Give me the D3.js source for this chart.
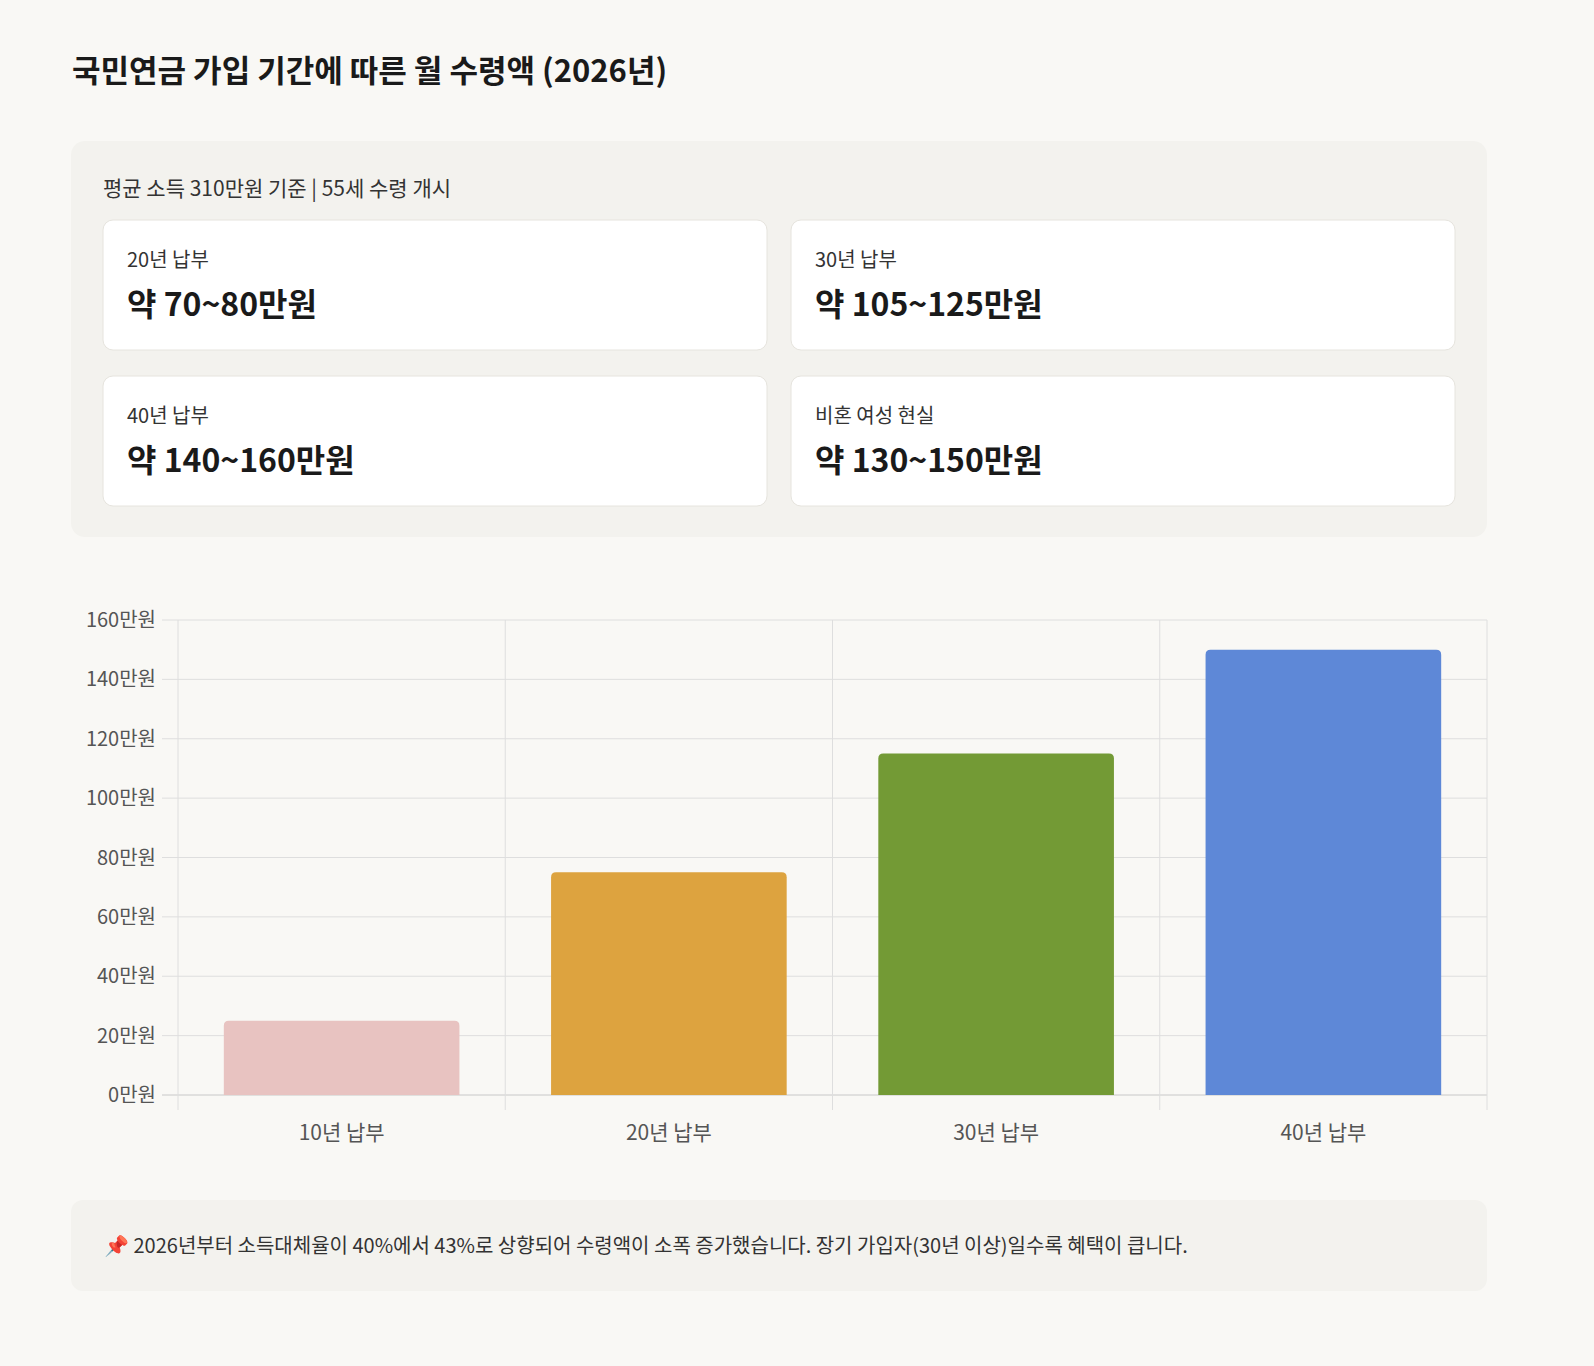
<!DOCTYPE html>
<html><head><meta charset="utf-8">
<script src="https://cdn.jsdelivr.net/npm/d3@7"></script>
<style>
body{margin:0;background:#f9f8f5;font-family:"Noto Sans CJK KR","Noto Sans",sans-serif;}
</style></head><body>
<svg id="c" width="1594" height="1366"></svg>
<script>
const categories=["10년 납부","20년 납부","30년 납부","40년 납부"];
const values=[25,75,115,150];
const colors=["#e8c3c1","#dda33f","#739a35","#5e88d7"];
const yTicks=[0,20,40,60,80,100,120,140,160];
const cardLabels=["20년 납부","30년 납부","40년 납부","비혼 여성 현실"];
const cardValues=["약 70~80만원","약 105~125만원","약 140~160만원","약 130~150만원"];
const title="국민연금 가입 기간에 따른 월 수령액 (2026년)";
const subtitle="평균 소득 310만원 기준 | 55세 수령 개시";
const note="📌 2026년부터 소득대체율이 40%에서 43%로 상향되어 수령액이 소폭 증가했습니다. 장기 가입자(30년 이상)일수록 혜택이 큽니다.";

const svg=d3.select("#c");
svg.append("text").attr("x",72).attr("y",82).attr("font-size",31).attr("font-weight",600).attr("fill","#1a1a1a").text(title);
svg.append("rect").attr("x",71).attr("y",141).attr("width",1416).attr("height",396).attr("rx",14).attr("fill","#f3f2ee");
svg.append("text").attr("x",103).attr("y",196).attr("font-size",21).attr("fill","#333").text(subtitle);
cardLabels.forEach((l,i)=>{
  const x=i%2?791:103, y=i<2?220:376;
  svg.append("rect").attr("x",x).attr("y",y).attr("width",664).attr("height",130).attr("rx",10).attr("fill","#fff").attr("stroke","#e6e4de");
  svg.append("text").attr("x",x+24).attr("y",y+47).attr("font-size",20).attr("fill","#333").text(l);
  svg.append("text").attr("x",x+24).attr("y",y+96).attr("font-size",32).attr("font-weight",700).attr("fill","#1a1a1a").text(cardValues[i]);
});
const x=d3.scaleBand().domain(categories).range([178,1487]).paddingInner(0.28).paddingOuter(0.14);
const y=d3.scaleLinear().domain([0,160]).range([1095,620]);
const g=svg.append("g");
yTicks.forEach(t=>{
  g.append("line").attr("x1",162).attr("x2",1487).attr("y1",y(t)).attr("y2",y(t)).attr("stroke",t===0?"#c8c8c8":"#dedede");
  g.append("text").attr("x",156).attr("y",y(t)).attr("dy","0.35em").attr("text-anchor","end").attr("font-size",20).attr("fill","#555").text(t+"만원");
});
const step=x.step(), x0=178;
for(let i=0;i<=categories.length;i++){
  const xx=178+i*(1309/categories.length);
  g.append("line").attr("x1",xx).attr("x2",xx).attr("y1",620).attr("y2",1110).attr("stroke","#dedede");
}
categories.forEach((c,i)=>{
  const cx=178+(i+0.5)*(1309/categories.length);
  const bw=x.bandwidth();
  g.append("path").attr("d",()=>{
    const x1=cx-bw/2,x2=cx+bw/2,yt=y(values[i]),yb=y(0),r=5;
    return `M${x1},${yb}V${yt+r}Q${x1},${yt} ${x1+r},${yt}H${x2-r}Q${x2},${yt} ${x2},${yt+r}V${yb}Z`;
  }).attr("fill",colors[i]);
  g.append("text").attr("x",cx).attr("y",1140).attr("text-anchor","middle").attr("font-size",21).attr("fill","#555").text(c);
});
svg.append("rect").attr("x",71).attr("y",1200).attr("width",1416).attr("height",91).attr("rx",12).attr("fill","#f3f2ee");
svg.append("text").attr("x",104).attr("y",1253).attr("font-size",20).attr("fill","#333").text(note);
</script></body></html>
